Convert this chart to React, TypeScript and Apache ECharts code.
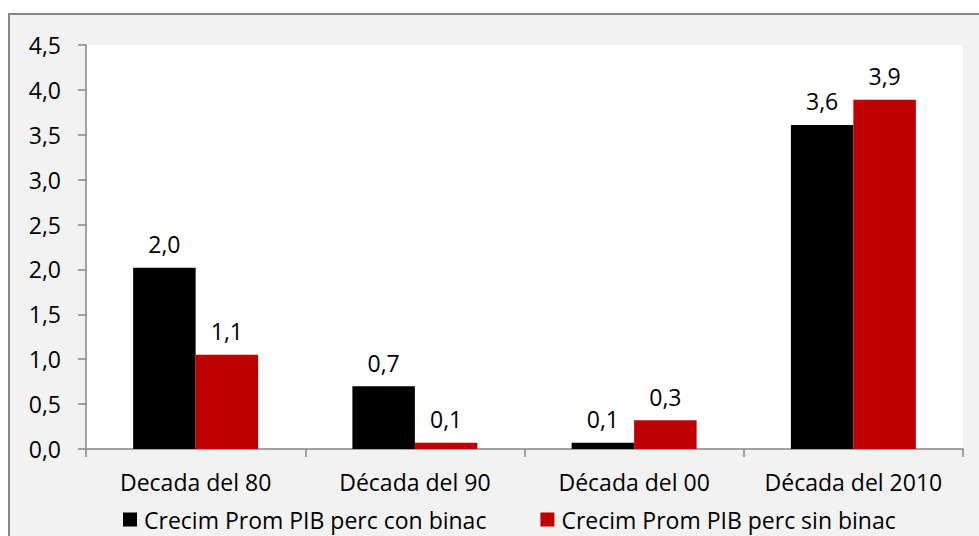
import React, { useEffect, useRef } from "react";
import * as echarts from "echarts";

const categories = ["Decada del 80", "Década del 90", "Década del 00", "Década del 2010"];
const conBinac = [2.02, 0.70, 0.07, 3.61];
const sinBinac = [1.05, 0.07, 0.32, 3.89];
const seriesNames = ["Crecim Prom PIB perc con binac", "Crecim Prom PIB perc sin binac"];

const FONT = "'Open Sans', sans-serif";
const FS = 23;
const fmt = (v: number) => v.toFixed(1).replace(".", ",");

export default function App() {
  const ref = useRef<HTMLDivElement>(null);
  useEffect(() => {
    const chart = echarts.init(ref.current!, null, { renderer: "svg" });
    const labelCfg = {
      show: true,
      position: "top" as const,
      distance: 12,
      color: "#000",
      fontFamily: FONT,
      fontSize: FS,
      formatter: (p: any) => fmt(p.value),
    };
    chart.setOption({
      animation: false,
      backgroundColor: "#ffffff",
      graphic: [
        {
          type: "rect",
          z: -10,
          silent: true,
          shape: { x: 9, y: 14, width: 1000, height: 600 },
          style: { fill: "#f2f2f2", stroke: "#868686", lineWidth: 2 },
        },
      ],
      grid: {
        left: 86,
        right: 16,
        top: 45,
        bottom: 87,
        show: true,
        backgroundColor: "#ffffff",
        borderWidth: 0,
        containLabel: false,
      },
      legend: {
        left: 118,
        top: 503,
        itemWidth: 14,
        itemHeight: 14,
        itemGap: 54,
        icon: "rect",
        textStyle: { fontFamily: FONT, fontSize: FS, color: "#000", padding: [0, 0, 0, 2] },
        data: seriesNames,
      },
      xAxis: {
        type: "category",
        data: categories,
        axisLine: { lineStyle: { color: "#868686", width: 1.5 } },
        axisTick: { show: true, length: 8, lineStyle: { color: "#868686", width: 1.5 } },
        axisLabel: { color: "#000", fontFamily: FONT, fontSize: FS, margin: 21, interval: 0, hideOverlap: false },
      },
      yAxis: {
        type: "value",
        min: 0,
        max: 4.5,
        interval: 0.5,
        splitLine: { show: false },
        axisLine: { show: true, lineStyle: { color: "#868686", width: 1.5 } },
        axisTick: { show: true, length: 8, lineStyle: { color: "#868686", width: 1.5 } },
        axisLabel: { color: "#000", fontFamily: FONT, fontSize: FS, margin: 25, formatter: (v: number) => fmt(v) },
      },
      series: [
        {
          name: seriesNames[0],
          type: "bar",
          data: conBinac,
          barGap: "0%",
          barCategoryGap: "43%",
          itemStyle: { color: "#000000" },
          label: labelCfg,
        },
        {
          name: seriesNames[1],
          type: "bar",
          data: sinBinac,
          itemStyle: { color: "#c00000" },
          label: labelCfg,
        },
      ],
    });
    return () => chart.dispose();
  }, []);
  return (
    <div
      ref={ref}
      style={{ position: "fixed", left: 0, top: 0, width: 979, height: 536 }}
    />
  );
}
